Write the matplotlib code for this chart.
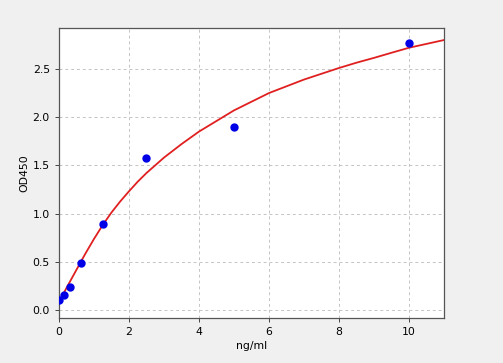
import matplotlib
matplotlib.use("Agg")
import matplotlib.pyplot as plt

# standard points
conc = [0.0, 0.156, 0.3125, 0.625, 1.25, 2.5, 5.0, 10.0]
od450 = [0.10, 0.155, 0.24, 0.49, 0.89, 1.58, 1.90, 2.77]

# fitted curve
curve_x = [0.0, 0.25, 0.5, 0.75, 1.0, 1.25, 1.5, 1.75, 2.0, 2.25, 2.5, 2.75,
           3.0, 3.5, 4.0, 4.5, 5.0, 5.5, 6.0, 6.5, 7.0, 7.5, 8.0, 8.5, 9.0,
           9.5, 10.0, 10.5, 11.0]
curve_y = [0.08, 0.25, 0.415, 0.58, 0.735, 0.88, 1.01, 1.125, 1.23, 1.33,
           1.42, 1.50, 1.58, 1.72, 1.85, 1.96, 2.07, 2.16, 2.25, 2.32, 2.39,
           2.45, 2.51, 2.565, 2.615, 2.668, 2.72, 2.76, 2.80]

xticks = [0, 2, 4, 6, 8, 10]
yticks = [0.0, 0.5, 1.0, 1.5, 2.0, 2.5]

f = plt.figure(figsize=(5.03, 3.63), dpi=100, facecolor="#f0f0f0")
ax1 = f.add_axes([0.117, 0.124, 0.766, 0.799])
ax1.set_facecolor("white")

ax1.plot(curve_x, curve_y, color="#e02020", lw=1.3, zorder=2)
ax1.plot(conc, od450, "o", color="#0000e6", ms=5, zorder=3)

ax1.set_xlim(0, 11)
ax1.set_ylim(-0.083, 2.925)
ax1.set_xticks(xticks)
ax1.set_yticks(yticks)
ax1.set_yticklabels([f"{v:.1f}" for v in yticks])
ax1.grid(True, ls=(0, (3, 3)), color="#c4c4c4", lw=0.7)
ax1.tick_params(labelsize=7.8, length=3, width=0.7, color="#444444")
for s in ax1.spines.values():
    s.set_color("#555555")
    s.set_linewidth(0.9)

ax1.set_xlabel("ng/ml", fontsize=7.8, labelpad=3)
ax1.set_ylabel("OD450", fontsize=7.8, labelpad=2)

f.savefig("out.png", dpi=100, facecolor=f.get_facecolor())
